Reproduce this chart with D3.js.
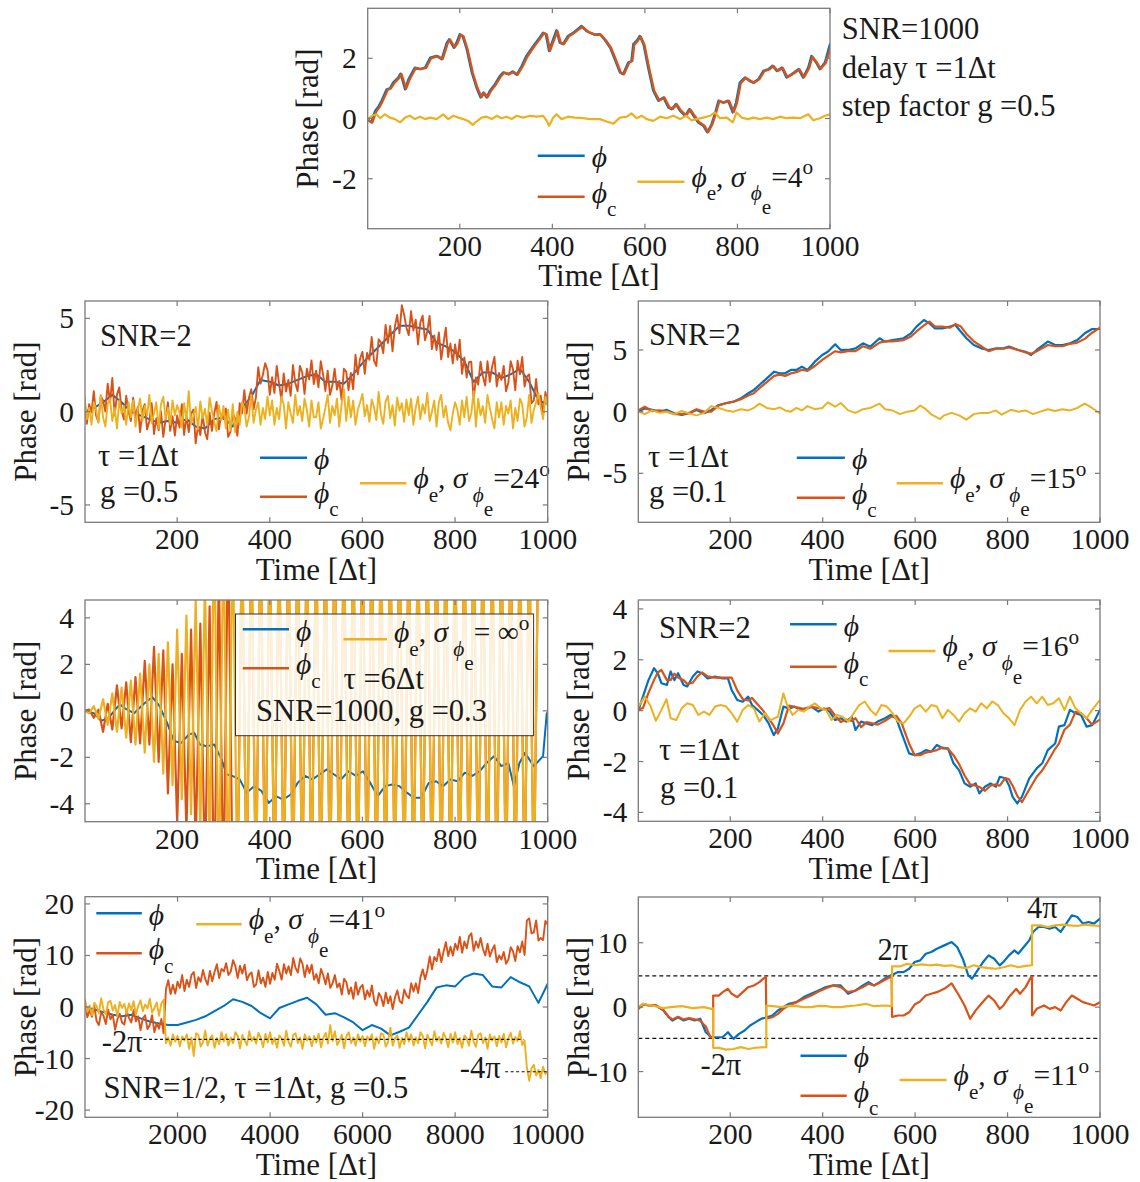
<!DOCTYPE html>
<html>
<head>
<meta charset="utf-8">
<script src="https://cdn.jsdelivr.net/npm/d3@7"></script>
<style>
  html, body { margin: 0; padding: 0; background: #ffffff; }
  svg { display: block; }
  text { font-family: 'Liberation Serif', 'Times New Roman', 'DejaVu Serif', serif; fill: #1a1a1a; white-space: pre; }
</style>
</head>
<body>
<svg id="fig" width="1140" height="1182"></svg>
<script>
// ---------- Panel 1: SNR=1000, delay 1, g=0.5 ----------
const p1Phi = [[1,-0.02],[9,-0.13],[17,0.25],[24,0.39],[31,0.59],[42,0.97],[49,1.0],[56,1.19],[67,1.36],[72,1.49],[82,0.97],[89,1.3],[103,1.69],[114,1.64],[125,1.69],[136,2.02],[150,2.08],[161,1.97],[172,2.52],[177,2.63],[187,2.35],[193,2.52],[200,2.8],[206,2.74],[215,2.3],[226,1.53],[236,1.03],[245,0.7],[251,0.86],[258,0.7],[265,0.92],[276,1.14],[287,1.42],[294,1.53],[305,1.47],[314,1.56],[323,1.45],[334,1.75],[344,2.08],[359,2.41],[370,2.63],[380,2.85],[386,2.8],[393,2.24],[398,2.47],[409,2.93],[416,2.52],[423,2.47],[434,2.74],[445,2.85],[454,2.96],[463,3.07],[474,2.9],[481,2.85],[492,2.78],[503,2.8],[514,2.6],[525,2.35],[535,1.97],[546,1.53],[553,1.47],[564,1.86],[571,1.91],[575,2.47],[582,2.58],[589,2.74],[597,2.47],[607,1.69],[618,0.92],[629,0.59],[640,0.7],[651,0.36],[658,0.31],[667,0.48],[676,0.25],[687,0.09],[696,0.31],[705,0.09],[715,-0.13],[726,-0.24],[735,-0.46],[744,-0.19],[751,0.14],[759,0.59],[769,0.53],[780,0.59],[790,0.2],[797,0.53],[805,1.19],[816,1.36],[826,1.25],[834,1.19],[845,1.3],[856,1.58],[867,1.64],[876,1.75],[885,1.58],[896,1.69],[906,1.36],[917,1.47],[932,1.64],[942,1.36],[953,1.69],[960,2.08],[970,1.86],[978,1.64],[989,1.86],[1000,2.47]];
const p1PhiC = [[1,-0.05],[11,-0.13],[19,0.22],[26,0.37],[33,0.57],[44,0.95],[51,1.0],[58,1.17],[69,1.35],[74,1.47],[84,0.99],[91,1.28],[105,1.68],[116,1.64],[127,1.68],[138,2.0],[152,2.07],[163,1.98],[174,2.5],[179,2.62],[189,2.36],[195,2.5],[202,2.78],[208,2.73],[217,2.28],[228,1.52],[238,1.02],[247,0.71],[253,0.85],[260,0.71],[267,0.91],[278,1.13],[289,1.41],[296,1.52],[307,1.47],[316,1.55],[325,1.46],[336,1.74],[346,2.06],[361,2.4],[372,2.62],[382,2.84],[388,2.79],[395,2.25],[400,2.46],[411,2.9],[418,2.52],[425,2.47],[436,2.73],[447,2.84],[456,2.95],[465,3.05],[476,2.9],[483,2.84],[494,2.78],[505,2.78],[516,2.59],[527,2.34],[537,1.96],[548,1.52],[555,1.48],[566,1.85],[573,1.92],[577,2.45],[584,2.57],[591,2.72],[599,2.45],[609,1.68],[620,0.92],[631,0.6],[642,0.7],[653,0.37],[660,0.32],[669,0.47],[678,0.26],[689,0.1],[698,0.3],[707,0.1],[717,-0.12],[728,-0.23],[737,-0.45],[746,-0.18],[753,0.15],[761,0.58],[771,0.53],[782,0.58],[792,0.22],[799,0.52],[807,1.17],[818,1.35],[828,1.25],[836,1.19],[847,1.3],[858,1.57],[869,1.63],[878,1.74],[887,1.58],[898,1.68],[908,1.37],[919,1.47],[934,1.63],[944,1.37],[955,1.68],[962,2.05],[972,1.85],[980,1.65],[991,1.85],[1000,2.3]];
const p1PhiE = [[1,-0.02],[10,0.09],[20,0.14],[28,0.01],[38,0.14],[49,0.03],[60,-0.02],[71,-0.13],[82,0.03],[92,0.09],[103,-0.02],[114,0.06],[125,-0.02],[136,0.03],[150,-0.02],[164,0.14],[175,-0.02],[186,0.09],[197,0.03],[208,-0.02],[218,-0.08],[228,-0.21],[236,-0.1],[247,0.03],[258,0.06],[269,-0.02],[280,0.09],[290,0.01],[301,0.06],[312,-0.02],[323,0.09],[337,0.03],[352,0.09],[366,0.06],[380,0.09],[388,-0.08],[393,-0.24],[402,0.03],[409,0.14],[420,-0.02],[434,0.06],[449,0.03],[467,0.01],[481,-0.02],[503,-0.02],[517,-0.1],[532,-0.17],[546,0.03],[561,0.06],[571,0.17],[582,0.01],[593,0.09],[604,-0.02],[618,-0.08],[633,0.06],[647,0.01],[661,0.09],[676,-0.02],[689,0.09],[701,-0.06],[712,-0.02],[726,0.03],[741,0.09],[751,0.2],[762,0.01],[777,0.03],[790,-0.13],[798,0.2],[809,0.03],[823,-0.02],[834,0.03],[849,-0.02],[863,0.03],[877,-0.02],[892,0.06],[906,0.01],[921,0.03],[935,0.01],[953,0.14],[964,-0.06],[978,0.01],[989,0.09],[1000,0.14]];

// ---------- Panel 2: SNR=2, tau 1, g=0.5 (samples every 5 steps, true phase every 20) ----------
const p2Step = 5;
const p2PhiC = [
  0.6,-0.65,0.4,-0.05,1.1,-0.22,-0.55,0.83,0.6,0.0,1.5,0.5,1.8,-0.2,0.9,1.3,0.1,-0.42,0.85,0.03,
  -0.5,0.75,-0.3,0.25,-1.1,0.05,0.4,-0.95,-0.5,0.45,-1.2,-0.35,-1.0,0.02,-1.35,-0.43,0.5,-1.03,-0.25,-1.28,
  -0.2,-0.85,0.4,-1.25,-0.2,-1.1,-0.1,0.1,-1.7,-0.73,-1.25,-0.18,-1.1,-1.48,-0.05,-1.03,-0.1,0.52,-0.95,-0.13,
  -0.4,0.17,-1.35,-1.08,-0.1,-0.35,-1.3,0.45,-0.1,1.15,-0.1,0.75,1.2,0.13,0.75,2.38,1.5,1.98,2.6,2.23,
  0.9,1.85,1.0,2.45,1.5,0.63,2.05,1.08,1.7,0.85,2.5,1.55,1.1,2.45,2.1,0.95,2.3,1.73,2.75,1.48,
  2.2,1.3,2.7,2.0,1.1,2.2,0.9,1.4,2.3,1.18,1.65,0.63,2.3,2.13,1.15,2.08,1.2,3.05,2.0,2.85,
  3.2,2.03,3.15,2.78,4.0,2.73,2.45,3.88,3.7,3.13,4.65,3.68,4.6,3.23,4.55,5.18,4.2,5.7,5.2,4.5,
  4.1,5.38,4.35,4.93,3.6,4.78,5.15,3.83,4.3,5.13,3.35,4.08,3.3,4.25,2.8,3.65,4.5,2.93,3.65,2.58,
  3.6,2.78,3.85,2.03,2.9,1.83,2.65,2.68,0.6,1.83,1.45,2.68,1.9,1.4,2.7,1.6,2.4,2.93,1.35,2.08,
  1.7,2.45,1.1,1.55,2.7,2.28,1.15,2.73,2.0,2.93,1.35,1.88,2.0,0.45,0.6,1.75,0.4,0.85,-0.2,1.05,
  0.5];
const p2PhiE = [
  0.8,-0.4,0.2,-0.7,0.5,0.1,-0.6,0.9,-0.3,-0.8,0.4,0.7,-0.5,0.2,-0.9,0.6,-0.1,0.3,-0.7,0.5,
  -0.3,0.6,-0.8,0.1,0.7,-0.5,0.3,-0.2,0.9,-0.6,-0.1,0.5,-0.9,0.4,0.8,-0.4,0.2,-0.7,0.6,-0.2,
  0.35,-0.05,-0.85,0.45,-0.45,1.1,-0.65,-0.25,0.25,-0.95,0.55,-0.35,0.15,-0.75,0.75,0.05,-0.55,-1.05,0.35,-0.45,
  0.3,-0.9,0.1,-1.0,0.4,-1.1,0.0,-0.7,0.5,0.2,-0.8,-0.3,0.9,-0.6,0.1,0.5,-0.7,0.2,-0.4,0.8,
  -0.2,0.6,-0.7,0.2,-0.4,0.8,0.4,-0.9,0.5,-0.1,-0.6,0.9,-0.2,0.3,-0.5,0.7,0.1,-0.8,0.6,-0.3,
  -0.3,0.5,-0.9,-0.4,0.2,0.9,-0.6,0.3,-0.2,0.7,-0.8,0.4,1.2,-0.5,0.8,-0.3,0.6,-0.7,0.1,0.5,
  0.95,-0.25,0.35,-0.55,0.65,0.25,-0.45,1.05,-0.15,-0.65,0.55,0.85,-0.35,0.35,-0.75,0.75,0.05,0.45,-0.55,0.65,
  -0.2,0.7,-0.7,0.2,0.8,-0.4,0.4,-0.1,1.0,-0.5,0.0,0.6,-0.8,0.5,0.9,-0.3,0.3,-0.6,-1.0,-0.1,
  0.5,0.1,-0.7,0.6,-0.3,0.8,-0.5,-0.1,1.1,-0.8,0.7,-0.2,0.3,-0.6,0.9,0.2,-0.4,-0.9,0.5,-0.3,
  0.5,-0.7,0.3,-0.1,0.6,-0.9,0.2,-0.5,0.7,0.4,-0.8,-0.3,0.9,-0.6,0.1,0.5,1.0,0.2,-0.4,0.8,
  0.3];
const p2PhiStep = 20;
const p2Phi = [0,0.2,0.5,0.9,0.5,0,-0.2,-0.4,-0.6,-0.5,-0.6,-0.4,-0.8,-0.9,-0.4,-0.3,-0.8,0.2,0.8,1.7,1.6,1.4,1.5,1.7,1.9,2.0,1.6,1.6,1.5,2.0,2.6,3.1,3.6,4.1,4.6,4.6,4.5,4.4,3.7,3.5,3.2,2.7,1.6,2.1,2.1,1.8,2.0,2.3,1.6,0.6,0.4];

// ---------- Panel 3: SNR=2, tau 1, g=0.1 ----------
const p3Phi = [[1,0],[15,0.27],[31,0.14],[47,0],[63,0.14],[79,-0.13],[95,-0.27],[111,-0.13],[127,0.14],[143,-0.13],[159,0.14],[175,0.54],[191,0.68],[207,0.81],[223,1.08],[239,1.49],[251,1.76],[263,2.16],[279,2.7],[295,3.24],[307,3.11],[319,3.11],[331,3.38],[343,3.38],[355,3.65],[367,3.38],[383,4.05],[399,4.59],[411,4.86],[427,5.46],[439,5.0],[455,5.0],[471,5.13],[487,5.54],[503,5.27],[523,5.95],[535,5.68],[551,5.81],[575,5.95],[591,6.35],[603,6.89],[619,7.43],[631,7.16],[643,6.75],[659,6.75],[675,6.89],[687,7.02],[699,6.48],[711,5.95],[727,5.4],[743,5.13],[759,5.0],[775,5.13],[791,5.13],[803,5.27],[823,5.0],[839,4.86],[851,4.59],[863,5.0],[887,5.68],[903,5.4],[919,5.4],[935,5.54],[951,5.81],[967,6.35],[983,6.7],[1000,6.7]];
const p3PhiC = [[1,0.1],[15,0.4],[31,0.05],[47,0.1],[63,0],[79,-0.2],[95,-0.2],[111,-0.1],[127,0.2],[143,0],[159,0],[175,0.5],[191,0.7],[207,0.8],[223,1.0],[239,1.3],[251,1.5],[263,1.9],[279,2.4],[295,2.9],[307,3.0],[319,2.9],[331,3.1],[343,3.2],[355,3.4],[367,3.3],[383,3.7],[399,4.2],[411,4.5],[427,4.9],[439,4.8],[455,4.9],[471,4.9],[487,5.3],[503,5.1],[523,5.6],[535,5.7],[551,5.7],[575,5.8],[591,6.1],[603,6.5],[619,7.0],[631,7.3],[643,6.9],[659,6.9],[675,6.8],[687,7.1],[699,6.9],[711,6.3],[727,5.7],[743,5.3],[759,4.9],[775,5.1],[791,5.1],[803,5.2],[823,5.0],[839,4.8],[851,4.7],[863,4.9],[887,5.4],[903,5.3],[919,5.3],[935,5.5],[951,5.6],[967,5.9],[983,6.4],[1000,6.8]];
const p3PhiE = [[1,0],[15,-0.2],[31,0.1],[47,-0.1],[63,0],[79,-0.2],[95,0.05],[111,-0.15],[127,-0.3],[143,-0.1],[159,0.45],[175,0.3],[191,0.1],[207,0],[223,0.2],[239,0.1],[251,0.3],[263,0.65],[279,0.3],[295,0.2],[307,0.35],[319,0.1],[331,0],[343,0.3],[355,0.1],[367,0.45],[383,0.2],[399,0.3],[411,0.75],[427,0.4],[439,0.7],[455,0.1],[471,-0.1],[487,0.2],[503,0.3],[523,0.65],[535,0.2],[551,0.1],[567,-0.2],[583,0],[599,0.1],[611,0.5],[623,0.2],[636,-0.25],[654,-0.6],[663,-0.3],[679,-0.1],[695,-0.3],[711,-0.65],[727,-0.2],[743,-0.1],[759,-0.1],[775,0.1],[787,-0.25],[807,0.15],[823,0],[839,0.1],[855,-0.2],[871,0],[887,0.2],[903,0.05],[919,0.2],[935,0.1],[951,0.3],[967,0.65],[983,0.3],[1000,-0.15]];

// ---------- Panel 4: SNR=1000, tau 6, g=0.3 (turning points every 10 steps) ----------
const p4Phi = [[1,0],[20,-0.1],[36,-0.43],[52,-0.29],[76,0.28],[91,0.06],[107,-0.1],[127,0.28],[146,0.6],[162,0.2],[178,-0.51],[193,-1.3],[209,-1.38],[225,-1.02],[237,-0.95],[249,-1.45],[264,-1.52],[280,-1.45],[296,-2.1],[307,-2.74],[319,-2.8],[335,-2.95],[350,-3.52],[366,-3.24],[382,-3.45],[398,-3.96],[413,-3.67],[429,-3.82],[445,-3.6],[460,-3.1],[476,-2.8],[492,-2.95],[507,-2.74],[523,-2.52],[539,-2.74],[554,-2.95],[570,-2.6],[586,-2.8],[601,-2.6],[617,-3.1],[633,-3.67],[649,-3.24],[664,-3.17],[680,-3.24],[696,-3.52],[711,-3.74],[727,-3.74],[743,-3.1],[759,-3.03],[774,-3.24],[790,-2.95],[806,-3.03],[821,-2.66],[837,-2.8],[853,-2.6],[868,-2.24],[884,-1.95],[900,-2.38],[915,-2.24],[927,-3.24],[939,-2.24],[951,-1.81],[970,-2.38],[990,-1.95],[998,-0.1]];
const p4Step = 10;
const p4PhiC = [0,0.05,-0.3,0.05,-0.9,0.3,-0.8,1.1,-0.75,1.23,-1.35,1.45,-1.4,2.15,-1.45,2.75,-2.2,2.6,-3.55,2.0,-4.85,2.45,-5.2,3.5,-5.9,3.75,-7.1,4.5,-8,6,-8,8,-8,-8,8,-8,8,-8,8,-8,8,-8,8,-8,8,-8,8,-8,8,-8,8,-8,8,-8,8,-8,8,-8,8,-8,8,-8,8,-8,8,-8,8,-8,8,-8,8,-8,8,-8,8,-8,8,-8,8,-8,8,-8,8,-8,8,-8,8,-8,8,-8,8,-8,8,-8,8,-8,8,-8,8];
const p4PhiE = [0,-0.1,0.2,-0.35,0.5,-0.6,0.75,-0.9,1.0,-1.15,1.3,-1.45,1.6,-1.8,2.0,-2.2,2.45,-2.7,2.95,-3.2,3.5,-3.8,4.1,-4.45,4.8,-5.2,5.6,-6.0,8,-8,8,-8,8,-8,8,-8,8,-8,8,-8,8,-8,8,-8,8,-8,8,-8,8,-8,8,-8,8,-8,8,-8,8,-8,8,-8,8,-8,8,-8,8,-8,8,-8,8,-8,8,-8,8,-8,8,-8,8,-8,8,-8,8,-8,8,-8,8,-8,8,-8,8,-8,8,-8,8,-8,8,-8,8,-8,8];

// ---------- Panel 5: SNR=2, tau 1, g=0.1 ----------
const p5Phi = [[1,0],[11,0.55],[23,1.2],[35,1.67],[43,1.47],[51,1.08],[63,1.01],[71,1.54],[79,1.2],[87,1.47],[99,1.01],[107,0.95],[119,1.34],[129,1.54],[139,1.47],[151,1.27],[167,1.34],[183,1.27],[195,1.27],[203,0.81],[215,0.42],[227,0.35],[239,0.55],[247,0.22],[259,0.03],[271,-0.17],[283,-0.5],[294,-0.96],[303,-0.7],[315,0.16],[327,0.09],[339,0.16],[351,0.03],[363,0.09],[375,0.16],[391,-0.04],[403,0.09],[415,-0.04],[427,-0.37],[439,-0.3],[451,-0.43],[463,-0.24],[471,-0.76],[483,-0.43],[495,-0.5],[507,-0.57],[519,-0.43],[535,-0.3],[547,-0.17],[559,-0.3],[571,-0.89],[579,-1.29],[587,-1.68],[599,-1.75],[611,-1.68],[623,-1.55],[635,-1.61],[647,-1.35],[659,-1.48],[671,-1.48],[683,-2.07],[695,-2.34],[707,-2.86],[719,-2.99],[731,-2.86],[739,-3.25],[751,-2.99],[763,-2.86],[775,-2.99],[783,-2.6],[795,-2.66],[803,-2.93],[811,-3.39],[821,-3.65],[831,-3.39],[847,-2.66],[863,-2.27],[875,-2.07],[887,-1.55],[903,-1.29],[911,-0.63],[923,-0.57],[935,0.03],[947,-0.1],[959,-0.17],[971,-0.63],[983,-0.57],[1000,0.03]];
const p5PhiC = [[1,0.05],[11,0.1],[23,0.7],[35,1.2],[43,1.5],[51,1.6],[63,1.2],[71,1.2],[79,1.45],[87,1.3],[99,1.2],[107,1.05],[119,1.1],[129,1.35],[139,1.5],[151,1.35],[167,1.3],[183,1.3],[195,1.3],[203,1.3],[215,0.8],[227,0.45],[239,0.4],[247,0.5],[259,0.25],[271,0.0],[283,-0.3],[294,-0.6],[303,-0.9],[315,-0.5],[327,0.2],[339,0.15],[351,0.1],[363,0.05],[375,0.15],[391,0.1],[403,0.05],[415,0.1],[427,-0.2],[439,-0.45],[451,-0.35],[463,-0.4],[471,-0.3],[483,-0.65],[495,-0.45],[507,-0.5],[519,-0.55],[535,-0.4],[547,-0.25],[559,-0.2],[571,-0.5],[579,-0.9],[587,-1.3],[599,-1.75],[611,-1.75],[623,-1.65],[635,-1.6],[647,-1.55],[659,-1.45],[671,-1.5],[683,-1.75],[695,-2.1],[707,-2.55],[719,-2.9],[731,-2.95],[739,-3.0],[751,-3.15],[763,-2.95],[775,-2.9],[783,-2.95],[795,-2.65],[803,-2.7],[811,-2.95],[821,-3.35],[831,-3.6],[847,-3.1],[863,-2.6],[875,-2.35],[887,-2.0],[903,-1.5],[911,-1.3],[923,-0.75],[935,-0.55],[947,-0.05],[959,-0.1],[971,-0.3],[983,-0.55],[1000,-0.35]];
const p5PhiE = [[1,0.15],[15,0.55],[27,0.2],[39,-0.4],[51,0.03],[62,0.45],[71,-0.3],[83,-0.37],[95,0.09],[107,0.29],[119,0.22],[131,-0.17],[143,-0.04],[155,-0.17],[167,0.16],[179,0.22],[191,0.16],[203,-0.1],[215,-0.43],[227,0.03],[239,0.22],[251,0.09],[263,-0.43],[275,-0.1],[287,-0.37],[303,-0.24],[315,0.68],[323,0.22],[335,-0.17],[347,0.03],[359,-0.04],[371,0.16],[383,0.29],[395,0.09],[407,0.03],[419,-0.37],[431,-0.17],[443,-0.24],[455,-0.43],[467,-0.1],[479,0.22],[491,0.36],[503,0.03],[515,-0.17],[527,0.22],[539,0.16],[551,-0.1],[563,-0.43],[575,-0.5],[587,-0.24],[599,0.09],[611,0.22],[623,-0.04],[635,0.22],[647,0.16],[659,-0.3],[671,0.03],[683,-0.17],[695,-0.43],[707,-0.1],[719,0.09],[731,-0.04],[743,0.29],[755,0.09],[767,0.36],[779,0.22],[791,-0.1],[803,-0.3],[815,-0.57],[827,0.03],[839,0.36],[851,0.55],[863,0.29],[875,0.55],[887,0.22],[899,0.29],[911,0.49],[923,0.03],[935,0.55],[947,0.09],[959,-0.1],[971,-0.3],[983,0.03],[1000,0.42]];

// ---------- Panel 6: SNR=1/2, 10000 steps (samples every 50 steps, true phase every 200) ----------
const p6Step = 50;
const p6PhiC = [
  1.2,-2.0,-0.6,-1.9,0.3,-2.7,-3.5,-1.0,-1.7,-3.3,-0.5,-2.4,-1.5,-4.4,-2.4,-1.3,-3.0,-3.4,-0.8,-2.1,
  -3.0,-0.6,-2.8,-1.8,-4.5,-2.2,-1.6,-4.3,-3.5,-1.6,-4.9,-3.1,-4.2,-2.3,-5.1,3.5,5.2,2.5,4.3,2.6,
  4.9,3.7,6.2,3.1,5.3,3.9,6.2,6.8,3.7,5.8,4.9,7.2,5.4,4.3,7.0,5.0,6.8,8.3,5.6,7.4,
  6.9,8.5,6.2,6.9,9.1,7.9,5.6,8.0,6.5,8.2,5.2,6.3,6.7,3.9,4.4,7.1,4.6,5.7,3.9,6.8,
  4.5,6.6,5.3,8.4,7.0,5.3,8.3,6.5,7.9,6.2,9.5,7.6,6.7,9.4,8.4,5.8,8.1,6.6,8.2,5.3,
  6.4,4.6,7.4,6.1,4.4,6.5,3.7,4.6,6.2,3.8,4.6,2.4,5.5,4.8,2.5,3.8,1.6,4.8,2.4,3.8,
  4.3,1.5,3.2,2.0,4.2,1.2,0.3,2.7,1.9,0.2,2.8,0.7,2.1,-0.4,1.9,3.2,1.2,0.7,3.4,2.2,
  1.7,4.6,3.0,4.6,2.7,5.8,7.3,5.4,7.1,9.8,7.3,9.7,8.9,11.2,8.7,10.8,12.6,9.9,11.7,10.0,
  12.3,11.1,13.6,10.5,12.7,11.4,13.7,14.3,10.9,12.7,11.5,13.4,11.3,10.0,12.3,9.8,11.1,12.0,8.7,10.0,
  9.2,10.7,8.4,9.2,11.6,10.8,8.9,11.8,10.6,12.7,10.1,16.8,17.2,14.3,14.5,16.8,12.9,13.4,13.0,16.7,
  16.0];
const p6PhiE = [
  1.4,-0.9,0.3,-1.6,0.8,0.2,-1.2,1.7,-0.5,-1.4,0.9,1.2,-0.7,0.4,-1.8,1.0,-0.2,0.6,-1.3,0.7,
  -0.6,1.1,-1.5,0.2,1.3,-0.8,0.5,-0.3,1.6,-1.1,-0.2,0.9,-1.7,0.7,1.4,-7.0,-5.9,-7.5,-5.3,-6.7,
  -5.6,-7.6,-5.7,-6.5,-5.3,-8.1,-5.9,-9.5,-5.1,-5.4,-7.7,-6.8,-4.6,-7.5,-6.1,-5.5,-7.9,-6.0,-7.2,-4.9,
  -6.7,-5.3,-7.5,-5.9,-7.0,-4.9,-5.6,-8.0,-5.4,-6.5,-7.4,-4.7,-6.6,-5.8,-7.1,-5.0,-6.1,-7.8,-5.2,-6.9,
  -4.9,-7.2,-6.0,-7.9,-5.5,-6.1,-7.5,-4.6,-6.8,-7.7,-5.4,-5.1,-7.0,-5.9,-8.1,-5.3,-6.5,-5.7,-7.6,-5.6,
  -6.9,-5.2,-7.8,-6.1,-5.0,-7.1,-3.5,-6.6,-4.7,-7.4,-6.5,-5.4,-8.0,-5.6,-4.9,-7.0,-5.9,-7.5,-5.3,-6.7,
  -5.6,-7.6,-5.7,-6.5,-5.3,-8.1,-5.9,-7.0,-5.1,-5.4,-7.7,-6.8,-4.0,-7.5,-6.1,-5.5,-7.9,-6.0,-7.2,-4.9,
  -6.7,-5.3,-7.5,-5.9,-7.0,-4.9,-5.6,-8.0,-5.4,-6.5,-7.4,-4.7,-6.6,-5.8,-7.1,-5.0,-6.1,-7.8,-5.2,-6.9,
  -4.9,-7.2,-6.0,-7.9,-5.5,-6.1,-7.5,-4.6,-6.8,-7.7,-5.4,-5.1,-7.0,-5.9,-8.1,-5.3,-6.5,-5.7,-7.6,-5.6,
  -6.9,-5.2,-7.8,-6.1,-5.0,-7.1,-5.8,-6.6,-4.7,-7.4,-6.5,-11.7,-14.3,-11.9,-11.2,-13.3,-12.2,-13.8,-11.6,-13.0,
  -12.5];
const p6PhiStep = 200;
const p6Phi = [0,-0.5,-1.0,-1.5,-1.8,-1.5,-2.2,-2.8,-3.2,-3.5,-3.5,-3.0,-2.5,-1.8,-0.8,0.2,1.5,1.0,0.2,-1.2,-2.2,-0.2,0.5,1.2,1.8,0.5,-1.5,-1.2,-2.0,-3.0,-4.5,-3.5,-4.2,-5.5,-4.8,-4.0,-1.5,1.0,3.8,4.2,4.0,5.8,6.5,6.2,4.0,3.8,5.8,4.8,4.0,0.8,4.5];
const p6RefLines = [{v: -2 * Math.PI, from: 1265, to: 9475}, {v: -4 * Math.PI, from: 9080, to: 10000}];

// ---------- Panel 7: phase wrapping by 2*pi ----------
const p7Phi = [[1,-0.25],[11,0.5],[23,0.26],[39,0.26],[55,-0.5],[67,-1.56],[75,-2.1],[87,-1.56],[99,-2.07],[111,-1.8],[123,-2.07],[135,-1.8],[147,-3.9],[159,-4.67],[171,-4.67],[183,-4.67],[195,-3.9],[207,-4.93],[219,-4.15],[231,-3.63],[243,-2.85],[255,-2.33],[267,-1.81],[279,-1.56],[291,-1.3],[303,-0.52],[315,0],[327,0.52],[343,0.78],[359,1.56],[375,2.07],[391,2.59],[407,3.11],[423,3.37],[439,3.37],[455,2.07],[471,2.59],[487,3.37],[499,3.89],[511,3.37],[523,3.89],[539,4.67],[551,5.03],[563,5.44],[575,5.44],[587,5.96],[599,7.0],[611,7.26],[623,8.3],[635,8.56],[647,9.07],[663,9.59],[679,10.1],[691,9.33],[703,7.52],[715,4.93],[723,4.41],[735,5.7],[747,7.0],[759,8.04],[771,7.52],[783,6.48],[791,7.0],[803,8.04],[815,8.82],[823,8.3],[835,9.33],[847,10.37],[855,11.67],[867,12.44],[879,12.44],[891,12.18],[903,12.44],[915,11.67],[927,12.96],[939,14.26],[951,14.0],[963,12.96],[975,13.22],[987,12.96],[1000,13.74]];
const p7PhiC = [[1,-0.3],[11,0.4],[23,0.3],[39,0.3],[55,-0.4],[67,-1.5],[75,-1.9],[87,-1.5],[99,-1.9],[111,-1.7],[123,-1.9],[135,-2.1],[147,-3.0],[157,-4.7],[163,-4.7],[163,1.8],[175,1.8],[183,2.3],[195,2.85],[203,2.07],[215,1.56],[227,2.33],[239,3.1],[251,3.37],[263,3.89],[271,4.4],[277,4.7],[278,-1.8],[291,-1.56],[303,-1.04],[315,-0.26],[327,0.26],[343,0.78],[359,1.3],[375,1.8],[391,2.44],[407,2.95],[423,3.37],[439,3.11],[455,2.33],[471,2.59],[487,3.11],[499,3.63],[511,3.37],[523,3.78],[539,4.41],[549,4.8],[550,-1.5],[563,-1.3],[575,-1.3],[587,-0.8],[599,0.4],[611,0.9],[623,1.8],[635,2.07],[647,2.33],[663,2.85],[679,3.7],[695,1.8],[707,0.26],[719,-1.8],[731,-0.5],[743,0.52],[759,1.8],[771,1.04],[783,-0.26],[791,0.26],[803,1.56],[819,2.85],[827,2.07],[839,3.11],[851,4.7],[853,4.7],[853,-1.3],[863,-0.26],[879,0.26],[891,-0.26],[903,0],[915,-0.52],[927,0.78],[939,1.8],[951,1.3],[963,0.78],[975,0.52],[987,0.26],[1000,0.78]];
const p7PhiE = [[1,0],[11,0.5],[31,0.26],[55,-0.15],[71,0],[95,0.15],[119,-0.15],[143,0],[159,-0.26],[163,-0.2],[163,-6.32],[175,-6.32],[191,-6.6],[207,-6.5],[223,-6.2],[239,-6.5],[255,-6.3],[277,-6.2],[278,-6.2],[278,0.26],[291,0.15],[311,0],[327,0.2],[343,0.15],[359,0],[375,0],[391,0.2],[407,0.15],[423,0],[439,0],[455,0.15],[471,0.26],[495,0.5],[511,0.15],[535,0.26],[549,0.15],[550,0.15],[550,6.32],[567,6.32],[583,6.74],[599,6.5],[615,6.64],[631,6.5],[647,6.6],[663,6.4],[679,6.5],[695,6.2],[711,6.07],[727,6.5],[743,6.2],[759,6.07],[775,5.96],[791,6.2],[807,6.5],[823,6.2],[839,6.4],[853,6.5],[853,12.7],[871,12.7],[887,12.44],[903,12.7],[919,12.8],[935,12.7],[951,12.6],[967,12.8],[983,12.7],[1000,12.6]];
const p7RefLines = [4.85, -4.85];

// ---------- tick labels and legend labels ----------
const ticks1000 = [200, 400, 600, 800, 1000];
const ticks10000 = [2000, 4000, 6000, 8000, 10000];
const sigmaLabels = { p1: "4", p2: "24", p3: "15", p4: " \u221E", p5: "16", p6: "41", p7: "11" };

// ---------- drawing ----------
const COLORS = { phi: "#0072BD", phic: "#D95319", phie: "#EDB120" };
const TICK_FS = 29.5, LABEL_FS = 31, NOTE_FS = 30.5, LEG_FS = 29.5;
const svg = d3.select("#fig");

const asPairs = (vals, step) => vals.map((v, i) => [i * step, v]);

function makePanel(id, box, xDomain, yDomain, xTicks, yTicks) {
  const x = d3.scaleLinear().domain(xDomain).range([box.l, box.r]);
  const y = d3.scaleLinear().domain(yDomain).range([box.b, box.t]);
  const g = svg.append("g").attr("id", id);
  svg.append("clipPath").attr("id", "clip-" + id)
    .append("rect").attr("x", box.l).attr("y", box.t)
    .attr("width", box.r - box.l).attr("height", box.b - box.t);
  const plot = g.append("g").attr("clip-path", "url(#clip-" + id + ")");
  const over = g.append("g");

  // frame and inward ticks on all four sides
  const frame = g.append("g");
  frame.append("rect").attr("x", box.l).attr("y", box.t)
    .attr("width", box.r - box.l).attr("height", box.b - box.t)
    .attr("fill", "none").attr("stroke", "#7a7a7a").attr("stroke-width", 1.3);
  const tl = 5;
  xTicks.forEach(v => {
    const px = x(v);
    frame.append("line").attr("x1", px).attr("x2", px).attr("y1", box.b).attr("y2", box.b - tl).attr("stroke", "#7a7a7a").attr("stroke-width", 1.2);
    frame.append("line").attr("x1", px).attr("x2", px).attr("y1", box.t).attr("y2", box.t + tl).attr("stroke", "#7a7a7a").attr("stroke-width", 1.2);
    frame.append("text").attr("x", px).attr("y", box.b + 27).attr("text-anchor", "middle")
      .style("font-size", TICK_FS + "px").text(d3.format("d")(v));
  });
  yTicks.forEach(v => {
    const py = y(v);
    frame.append("line").attr("x1", box.l).attr("x2", box.l + tl).attr("y1", py).attr("y2", py).attr("stroke", "#7a7a7a").attr("stroke-width", 1.2);
    frame.append("line").attr("x1", box.r).attr("x2", box.r - tl).attr("y1", py).attr("y2", py).attr("stroke", "#7a7a7a").attr("stroke-width", 1.2);
    frame.append("text").attr("x", box.l - 11).attr("y", py + 10).attr("text-anchor", "end")
      .style("font-size", TICK_FS + "px").text(String(v));
  });
  // axis titles
  frame.append("text").attr("x", (box.l + box.r) / 2).attr("y", box.b + 57.5)
    .attr("text-anchor", "middle").style("font-size", LABEL_FS + "px").text("Time [\u0394t]");
  frame.append("text")
    .attr("transform", "translate(" + (box.l - 49.5) + "," + ((box.t + box.b) / 2) + ") rotate(-90)")
    .attr("text-anchor", "middle").style("font-size", LABEL_FS + "px").text("Phase [rad]");

  return { x, y, plot, over, box };
}

function drawSeries(p, pts, color, width) {
  const line = d3.line().x(d => p.x(d[0])).y(d => p.y(d[1]));
  p.plot.append("path").datum(pts).attr("d", line)
    .attr("fill", "none").attr("stroke", color).attr("stroke-width", width || 2)
    .attr("stroke-linejoin", "round").attr("stroke-linecap", "round");
}

// rich text: parts = [text, style, level]; level 0 main, 1 subscript, 2 sub-subscript, -1 superscript
function richText(parent, x, y, parts, fs) {
  const t = parent.append("text").attr("x", x).attr("y", y).style("font-size", fs + "px");
  parts.forEach(([s, st, lvl]) => {
    const size = lvl === 0 ? fs : fs * 0.72;
    const shift = lvl === 1 ? 0.46 * fs : lvl === 2 ? 0.94 * fs : lvl === -1 ? -0.42 * fs : 0;
    t.append("tspan").attr("y", y + shift)
      .style("font-size", size + "px")
      .style("font-style", st === "i" ? "italic" : "normal")
      .text(s);
  });
  return t;
}

const PHI = "\u03D5";
const labelPhi = [[PHI, "i", 0]];
const labelPhiC = [[PHI, "i", 0], ["c", "n", 1]];
const labelPhiE = s => [[PHI, "i", 0], ["e", "n", 1], [", ", "n", 0], ["\u03C3", "i", 0], [" " + PHI, "i", 1], ["e", "n", 2], ["=" + s, "n", 0], ["o", "n", -1]];

function legend(p, L, sigma) {
  const g = p.over;
  const seg = (x1, x2, y, c) => g.append("line").attr("x1", x1).attr("x2", x2).attr("y1", y).attr("y2", y)
    .attr("stroke", c).attr("stroke-width", 2.4);
  seg(L.bx1, L.bx2, L.by, COLORS.phi);
  richText(g, L.bx2 + 7, L.by + 11.5, labelPhi, LEG_FS);
  seg(L.bx1, L.bx2, L.ry, COLORS.phic);
  richText(g, L.bx2 + 7, L.ry + 6, labelPhiC, LEG_FS);
  seg(L.yx1, L.yx2, L.yy, COLORS.phie);
  richText(g, L.yx2 + 7, L.yy + (L.yOff !== undefined ? L.yOff : 5), labelPhiE(sigma), LEG_FS);
}

function note(p, x, y, s, fs) {
  p.over.append("text").attr("x", x).attr("y", y).style("font-size", (fs || NOTE_FS) + "px").text(s);
}

// Panel 1
const P1 = makePanel("p1", { l: 367.7, r: 830, t: 8.3, b: 228.7 }, [1, 1000], [-3.66, 3.66], ticks1000, [-2, 0, 2]);
drawSeries(P1, p1Phi, COLORS.phi, 2.4);
drawSeries(P1, p1PhiC, COLORS.phic, 2.4);
drawSeries(P1, p1PhiE, COLORS.phie, 2.2);
legend(P1, { bx1: 537.7, bx2: 584.7, by: 155.7, ry: 196.7, yx1: 637.4, yx2: 684.4, yy: 181.7 }, sigmaLabels.p1);
svg.append("text").attr("x", 841.7).attr("y", 39).style("font-size", NOTE_FS + "px").text("SNR=1000");
svg.append("text").attr("x", 841.7).attr("y", 77.5).style("font-size", NOTE_FS + "px").text("delay \u03C4 =1\u0394t");
svg.append("text").attr("x", 841.7).attr("y", 116).style("font-size", NOTE_FS + "px").text("step factor g =0.5");

// Panel 2
const P2 = makePanel("p2", { l: 85, r: 547.7, t: 301, b: 522.3 }, [1, 1000], [-5.93, 5.93], ticks1000, [-5, 0, 5]);
drawSeries(P2, asPairs(p2Phi, p2PhiStep), COLORS.phi, 2);
drawSeries(P2, asPairs(p2PhiC, p2Step), COLORS.phic, 1.9);
drawSeries(P2, asPairs(p2PhiE, p2Step), COLORS.phie, 1.9);
legend(P2, { bx1: 260, bx2: 307, by: 457.7, ry: 496.7, yx1: 360, yx2: 406.4, yy: 483.3 }, sigmaLabels.p2);
note(P2, 100, 346, "SNR=2");
note(P2, 98, 466, "\u03C4 =1\u0394t");
note(P2, 100, 502, "g =0.5");

// Panel 3
const P3 = makePanel("p3", { l: 638.3, r: 1100, t: 301, b: 522.3 }, [1, 1000], [-8.97, 8.97], ticks1000, [-5, 0, 5]);
drawSeries(P3, p3Phi, COLORS.phi, 2.2);
drawSeries(P3, p3PhiC, COLORS.phic, 2.2);
drawSeries(P3, p3PhiE, COLORS.phie, 2);
legend(P3, { bx1: 796.8, bx2: 844.9, by: 457.7, ry: 497.7, yx1: 896.7, yx2: 942.9, yy: 483.3 }, sigmaLabels.p3);
note(P3, 649, 345, "SNR=2");
note(P3, 648, 467, "\u03C4 =1\u0394t");
note(P3, 649, 502, "g =0.1");

// Panel 4
const P4 = makePanel("p4", { l: 85, r: 547.7, t: 600, b: 821.7 }, [1, 1000], [-4.77, 4.77], ticks1000, [-4, -2, 0, 2, 4]);
drawSeries(P4, p4Phi, COLORS.phi, 2);
drawSeries(P4, asPairs(p4PhiC, p4Step), COLORS.phic, 2.2);
drawSeries(P4, asPairs(p4PhiE, p4Step), COLORS.phie, 2.2);
P4.over.append("rect").attr("x", 235.5).attr("y", 614).attr("width", 298.1).attr("height", 121.7)
  .attr("fill", "#ffffff").attr("fill-opacity", 0.82).attr("stroke", "#333333").attr("stroke-width", 1);
legend(P4, { bx1: 242.8, bx2: 289, by: 629.3, ry: 668.3, yx1: 343.5, yx2: 387, yy: 639.3, yOff: 3 }, sigmaLabels.p4);
note(P4, 343.5, 689, "\u03C4 =6\u0394t");
note(P4, 256, 721, "SNR=1000, g =0.3");

// Panel 5
const P5 = makePanel("p5", { l: 638.3, r: 1100, t: 600, b: 821.3 }, [1, 1000], [-4.35, 4.35], ticks1000, [-4, -2, 0, 2, 4]);
drawSeries(P5, p5Phi, COLORS.phi, 2.2);
drawSeries(P5, p5PhiC, COLORS.phic, 2.2);
drawSeries(P5, p5PhiE, COLORS.phie, 2);
legend(P5, { bx1: 790.1, bx2: 836.7, by: 624.3, ry: 666.7, yx1: 888.5, yx2: 935.5, yy: 651 }, sigmaLabels.p5);
note(P5, 659, 638, "SNR=2");
note(P5, 659, 760, "\u03C4 =1\u0394t");
note(P5, 660, 798, "g =0.1");

// Panel 6
const P6 = makePanel("p6", { l: 85, r: 547.7, t: 896.7, b: 1117.3 }, [0, 10000], [-21.4, 21.4], ticks10000, [-20, -10, 0, 10, 20]);
drawSeries(P6, asPairs(p6Phi, p6PhiStep), COLORS.phi, 2);
drawSeries(P6, asPairs(p6PhiC, p6Step), COLORS.phic, 1.9);
drawSeries(P6, asPairs(p6PhiE, p6Step), COLORS.phie, 1.9);
p6RefLines.forEach(r => {
  P6.over.append("line").attr("x1", P6.x(r.from)).attr("x2", P6.x(r.to)).attr("y1", P6.y(r.v)).attr("y2", P6.y(r.v))
    .attr("stroke", "#111").attr("stroke-width", 1.1).attr("stroke-dasharray", "3,2.5");
});
legend(P6, { bx1: 96.3, bx2: 141.8, by: 913.3, ry: 953.3, yx1: 196.3, yx2: 241.7, yy: 924.3 }, sigmaLabels.p6);
note(P6, 101.8, 1051.7, "-2\u03C0");
note(P6, 459.8, 1078.3, "-4\u03C0");
note(P6, 103.6, 1098.3, "SNR=1/2, \u03C4 =1\u0394t, g =0.5");

// Panel 7
const P7 = makePanel("p7", { l: 638.3, r: 1100, t: 897, b: 1117.3 }, [1, 1000], [-17.1, 17.1], ticks1000, [-10, 0, 10]);
p7RefLines.forEach(v => {
  P7.plot.append("line").attr("x1", P7.box.l).attr("x2", P7.box.r).attr("y1", P7.y(v)).attr("y2", P7.y(v))
    .attr("stroke", "#111").attr("stroke-width", 1.1).attr("stroke-dasharray", "4,3");
});
drawSeries(P7, p7Phi, COLORS.phi, 2.2);
drawSeries(P7, p7PhiC, COLORS.phic, 2.2);
drawSeries(P7, p7PhiE, COLORS.phie, 2.2);
legend(P7, { bx1: 800.5, bx2: 846.7, by: 1055.7, ry: 1095.7, yx1: 899.6, yx2: 946.6, yy: 1080 }, sigmaLabels.p7);
note(P7, 1026.9, 918.3, "4\u03C0");
note(P7, 877.4, 960, "2\u03C0");
note(P7, 700.6, 1075, "-2\u03C0");
</script>
</body>
</html>
